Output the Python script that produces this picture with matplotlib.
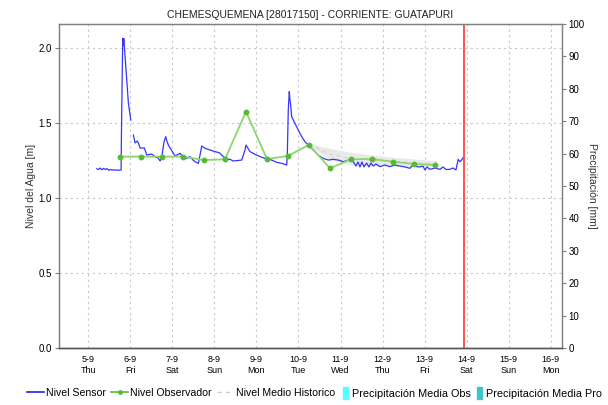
import numpy as np
import matplotlib
matplotlib.use("Agg")
import matplotlib.pyplot as plt
from matplotlib.lines import Line2D
from matplotlib.patches import Rectangle

plt.rcParams['font.family'] = ['Liberation Sans', 'DejaVu Sans']

# ---------------- data ----------------
title = "CHEMESQUEMENA [28017150] - CORRIENTE: GUATAPURI"
tick_days = [5, 6, 7, 8, 9, 10, 11, 12, 13, 14, 15, 16]
tick_labels = ["5-9\nThu", "6-9\nFri", "7-9\nSat", "8-9\nSun", "9-9\nMon", "10-9\nTue",
               "11-9\nWed", "12-9\nThu", "13-9\nFri", "14-9\nSat", "15-9\nSun", "16-9\nMon"]

# Nivel Sensor (day of September, level in m); NaN = gap in record
sensor_day = [5.20, 5.24, 5.28, 5.32, 5.36, 5.40, 5.44, 5.48, 5.52, 5.56, 5.60, 5.64, 5.68, 5.72, 5.778,
              5.785, 5.809, 5.818, 5.833, 5.842, 5.873, 5.913, 5.951, 6.009, 6.04,
              6.070, 6.111, 6.159, 6.189, 6.230, 6.332, 6.389, 6.508, 6.587, 6.658, 6.706, 6.746,
              6.801, 6.841, 6.860, 6.903, 6.998, 7.062, 7.181, 7.253, 7.341, 7.419, 7.490, 7.538,
              7.617, 7.657, 7.697, 7.776, 7.895, 8.014, 8.116, 8.211, 8.292, 8.371, 8.442, 8.530,
              8.649, 8.727, 8.751, 8.846, 8.965, 9.084, 9.203, 9.362, 9.481, 9.600, 9.719,
              9.734, 9.757, 9.781, 9.797, 9.814, 9.838, 9.916, 9.995, 10.076, 10.155, 10.233,
              10.352, 10.471, 10.590, 10.709, 10.828, 10.947, 11.066, 11.185, 11.304,
              11.368, 11.416, 11.463, 11.511, 11.558, 11.622, 11.677, 11.724, 11.779, 11.843,
              11.938, 12.057, 12.176, 12.295, 12.414, 12.533, 12.652, 12.724, 12.812, 12.890,
              12.962, 13.010, 13.057, 13.129, 13.248, 13.367, 13.438, 13.509, 13.605, 13.676,
              13.748, 13.801, 13.842, 13.882, 13.913]
sensor_lvl = [1.195, 1.190, 1.200, 1.188, 1.198, 1.190, 1.196, 1.185, 1.190, 1.186, 1.188, 1.185, 1.187, 1.185, 1.187,
              1.400, 1.920, 2.065, 2.020, 2.063, 1.940, 1.787, 1.633, 1.520, np.nan,
              1.420, 1.367, 1.380, 1.367, 1.333, 1.333, 1.287, 1.293, 1.275, 1.267, 1.247, 1.275,
              1.375, 1.409, 1.387, 1.353, 1.309, 1.280, 1.298, 1.273, 1.264, 1.276, 1.253, 1.242,
              1.231, 1.287, 1.347, 1.331, 1.320, 1.309, 1.302, 1.276, 1.258, 1.258, 1.247, 1.249,
              1.253, 1.320, 1.353, 1.309, 1.291, 1.276, 1.264, 1.253, 1.238, 1.231, 1.220,
              1.287, 1.587, 1.709, 1.653, 1.620, 1.542, 1.498, 1.453, 1.409, 1.375, 1.353,
              1.320, 1.287, 1.264, 1.253, 1.258, 1.253, 1.242, 1.253, 1.242,
              1.213, 1.240, 1.207, 1.240, 1.207, 1.233, 1.207, 1.233, 1.213, 1.227,
              1.209, 1.220, 1.209, 1.220, 1.213, 1.207, 1.198, 1.220, 1.209, 1.207,
              1.213, 1.187, 1.207, 1.191, 1.200, 1.191, 1.207, 1.190, 1.191, 1.200,
              1.187, 1.258, 1.242, 1.253, 1.267]

# Nivel Observador
obs_day = [5.75, 6.25, 6.75, 7.25, 7.75, 8.25, 8.75, 9.25, 9.75, 10.25, 10.75, 11.25, 11.75, 12.25, 12.75, 13.25]
obs_lvl = [1.276, 1.276, 1.276, 1.276, 1.253, 1.258, 1.576, 1.260, 1.280, 1.355, 1.198, 1.258, 1.260, 1.242, 1.227, 1.220]

# Nivel Medio Historico (mean and band)
hist_day = [10.25, 10.75, 11.25, 11.75, 12.25, 12.75, 13.30]
hist_upper = [1.364, 1.330, 1.305, 1.287, 1.272, 1.260, 1.249]
hist_lower = [1.350, 1.255, 1.222, 1.215, 1.212, 1.210, 1.209]
hist_mean = [1.357, 1.292, 1.263, 1.251, 1.242, 1.235, 1.229]

now_day = 13.94

# ---------------- figure ----------------
fig = plt.figure(figsize=(6.08, 4.05), dpi=100)
ax = fig.add_axes([59 / 608, 1 - 348 / 405, (561.5 - 59) / 608, (348 - 24) / 405])
ax2 = ax.twinx()

ymax = 2.16
ax.set_xlim(4.30, 16.26)
ax.set_ylim(0, ymax)
ax2.set_ylim(0, 100)

ax.fill_between(hist_day, hist_lower, hist_upper, color='#e9e9e9', lw=0, zorder=1)
ax.plot(hist_day, hist_mean, color='#d4d4d4', lw=0.9, ls=(0, (3, 3)), zorder=2)
ax.plot(sensor_day, sensor_lvl, color='#3535ff', lw=0.9, zorder=3)
ax.plot(obs_day, obs_lvl, color='#8cd66c', lw=1.3, marker='o', ms=3.2,
        mfc='#55bb33', mec='#55bb33', zorder=4)
ax.axvline(now_day, color='#ff3333', lw=1.2, zorder=5)

# grid
ax.set_xticks(tick_days)
ax.set_xticklabels(tick_labels, fontsize=6.5, linespacing=1.35)
ax.set_yticks([0.0, 0.5, 1.0, 1.5, 2.0])
ax.set_yticklabels(["0.0", "0.5", "1.0", "1.5", "2.0"], fontsize=7)
ax.grid(True, color='#c8c8c8', ls=(0, (2, 3)), lw=0.8)
ax.set_axisbelow(True)
ax2.set_yticks(range(0, 101, 10))
ax2.tick_params(axis='y', labelsize=7, length=3, color='#808080', pad=2)
ax.tick_params(axis='y', length=3, color='#808080', pad=2)
ax.tick_params(axis='x', length=0, pad=5)

for a in (ax, ax2):
    for s in ('left', 'right', 'top'):
        a.spines[s].set_color('#808080')
        a.spines[s].set_linewidth(0.9)
    a.spines['bottom'].set_color('#555555')
    a.spines['bottom'].set_linestyle((0, (1, 1)))
    a.spines['bottom'].set_linewidth(1.0)

ax.set_ylabel("Nivel del Agua [m]", fontsize=7.5, color='#333333', labelpad=2)
ax2.set_ylabel("Precipitación [mm]", fontsize=7.5, color='#333333', rotation=270, labelpad=9)

fig.text(310 / 608, 1 - 14.5 / 405, title, ha='center', va='center', fontsize=7.5, color='#222222')

# legend: lines
line_handles = [
    Line2D([], [], color='#2222ee', lw=1.2),
    Line2D([], [], color='#55bb33', lw=1.2, marker='o', ms=2.5),
    Line2D([], [], color='#cccccc', lw=1.0, ls=(0, (3, 3))),
]
line_labels = ["Nivel Sensor", "Nivel Observador", "Nivel Medio Historico"]
leg1 = fig.legend(line_handles, line_labels, loc='center left', bbox_to_anchor=(27 / 608, 1 - 393 / 405),
                  ncol=3, frameon=False, fontsize=7.6, handlelength=1.6, handletextpad=0.2,
                  columnspacing=0.5, borderpad=0, borderaxespad=0)
# legend: precipitation patches
patch_handles = [Rectangle((0, 0), 1, 1, color='#55ffff'), Rectangle((0, 0), 1, 1, color='#44c4c4')]
patch_labels = ["Precipitación Media Obs", "Precipitación Media Pro"]
leg2 = fig.legend(patch_handles, patch_labels, loc='center left', bbox_to_anchor=(343 / 608, 1 - 393 / 405),
                  ncol=2, frameon=False, fontsize=7.8, handlelength=0.5, handleheight=1.3,
                  handletextpad=0.3, columnspacing=0.6, borderpad=0, borderaxespad=0)

fig.savefig("out.png", dpi=100)
